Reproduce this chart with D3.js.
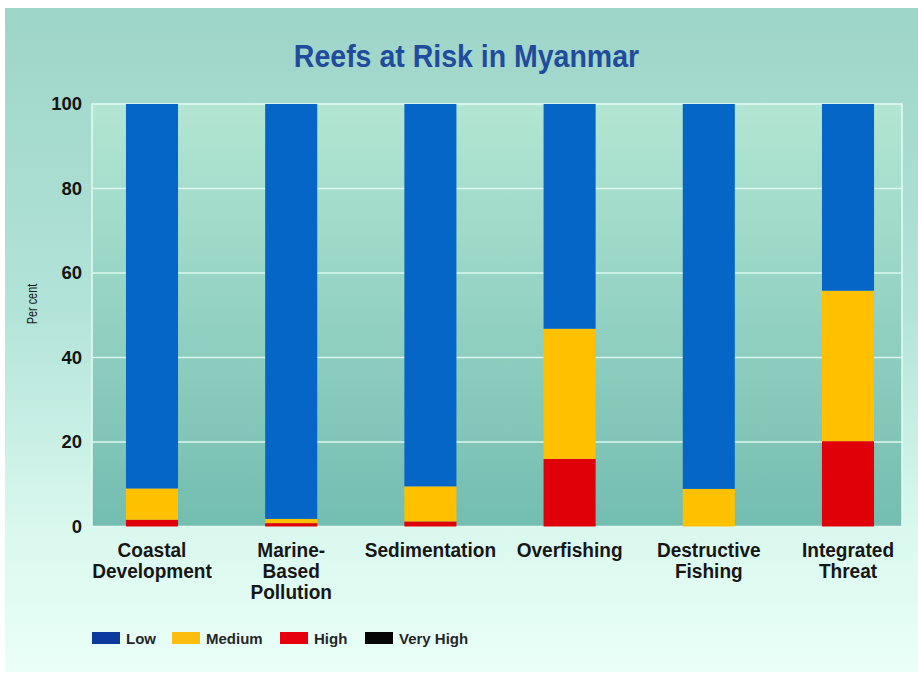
<!DOCTYPE html>
<html>
<head>
<meta charset="utf-8">
<script src="https://cdn.jsdelivr.net/npm/d3@7"></script>
<style>
  html, body { margin: 0; padding: 0; background: #ffffff; }
  svg { display: block; }
  text { font-family: "Liberation Sans", Arial, Helvetica, sans-serif; }
</style>
</head>
<body>
<svg id="chart" width="918" height="675"></svg>
<script>
// Threat categories and share of reefs (per cent) at each threat level
const categories = [
  ["Coastal", "Development"],
  ["Marine-", "Based", "Pollution"],
  ["Sedimentation"],
  ["Overfishing"],
  ["Destructive", "Fishing"],
  ["Integrated", "Threat"]
];
const levels = ["Low", "Medium", "High", "Very High"];
const lowValues      = [91.0, 98.2, 90.5, 53.2, 91.1, 44.2];
const mediumValues   = [7.4, 1.0, 8.3, 30.8, 8.9, 35.6];
const highValues     = [1.6, 0.8, 1.2, 16.0, 0.0, 20.2];
const veryHighValues = [0, 0, 0, 0, 0, 0];
const yTicks = [0, 20, 40, 60, 80, 100];

const barColors = { "Low": "#0566c8", "Medium": "#ffc000", "High": "#e00008", "Very High": "#000000" };
const legendColors = { "Low": "#0c3a9c", "Medium": "#fcbd10", "High": "#e6000c", "Very High": "#050505" };

const svg = d3.select("#chart");
const W = 918, H = 675;
const plot = { left: 92, top: 104, right: 902, bottom: 526.5 };

const defs = svg.append("defs");
const panelGrad = defs.append("linearGradient").attr("id", "panelGrad")
  .attr("x1", 0).attr("y1", 0).attr("x2", 0).attr("y2", 1);
panelGrad.append("stop").attr("offset", "0%").attr("stop-color", "#9ed5c9");
panelGrad.append("stop").attr("offset", "45%").attr("stop-color", "#b2e3d8");
panelGrad.append("stop").attr("offset", "78%").attr("stop-color", "#d9f8ee");
panelGrad.append("stop").attr("offset", "100%").attr("stop-color", "#eafff8");

const plotGrad = defs.append("linearGradient").attr("id", "plotGrad")
  .attr("x1", 0).attr("y1", 0).attr("x2", 0).attr("y2", 1);
plotGrad.append("stop").attr("offset", "0%").attr("stop-color", "#b3e6d3");
plotGrad.append("stop").attr("offset", "100%").attr("stop-color", "#73bdb1");

// Outer panel
svg.append("rect").attr("x", 5).attr("y", 8).attr("width", W - 5).attr("height", 664)
  .attr("fill", "url(#panelGrad)");

// Plot area
svg.append("rect")
  .attr("x", plot.left).attr("y", plot.top)
  .attr("width", plot.right - plot.left).attr("height", plot.bottom - plot.top)
  .attr("fill", "url(#plotGrad)")
  .attr("stroke", "#e4fbf3").attr("stroke-width", 1.5);

const x = d3.scaleBand()
  .domain(d3.range(categories.length))
  .range([82.4, 917.6])
  .paddingInner(0.626)
  .paddingOuter(0.313);

const y = d3.scaleLinear().domain([0, 100]).range([plot.bottom, plot.top]);

// Gridlines
svg.append("g").selectAll("line")
  .data(yTicks.filter(t => t > 0 && t < 100))
  .join("line")
  .attr("x1", plot.left).attr("x2", plot.right)
  .attr("y1", d => y(d)).attr("y2", d => y(d))
  .attr("stroke", "#dcf7ee").attr("stroke-width", 1.5);

// Stacked bars
const rows = categories.map((c, i) => ({
  i,
  "Low": lowValues[i], "Medium": mediumValues[i], "High": highValues[i], "Very High": veryHighValues[i]
}));
const stackOrder = ["Very High", "High", "Medium", "Low"];
const stacked = d3.stack().keys(stackOrder)(rows);

svg.append("g").selectAll("g")
  .data(stacked)
  .join("g")
  .attr("fill", d => barColors[d.key])
  .selectAll("rect")
  .data(d => d.filter(s => s[1] - s[0] > 0))
  .join("rect")
  .attr("x", d => x(d.data.i))
  .attr("width", x.bandwidth())
  .attr("y", d => y(d[1]))
  .attr("height", d => y(d[0]) - y(d[1]));

// Y axis labels
const yAxis = d3.axisLeft(y).tickValues(yTicks).tickSize(0).tickPadding(10);
const gy = svg.append("g").attr("transform", `translate(${plot.left},0)`).call(yAxis);
gy.select(".domain").remove();
gy.selectAll("text")
  .attr("font-family", "\"Liberation Sans\", Arial, sans-serif")
  .attr("font-size", 18.5).attr("font-weight", "bold").attr("fill", "#141414");

// Y title (narrow face)
svg.append("text")
  .attr("transform", `translate(37,304) rotate(-90) scale(0.7,1)`)
  .attr("text-anchor", "middle")
  .attr("font-size", 15.5).attr("fill", "#1a1a1a")
  .text("Per cent");

// Category labels
const xl = svg.append("g");
categories.forEach((lines, i) => {
  const t = xl.append("text")
    .attr("transform", `translate(${x(i) + x.bandwidth() / 2},0) scale(0.93,1)`)
    .attr("text-anchor", "middle")
    .attr("font-size", 20.5).attr("font-weight", "bold").attr("fill", "#161616");
  lines.forEach((ln, k) => {
    t.append("tspan").attr("x", 0).attr("y", 557 + k * 21).text(ln);
  });
});

// Title
svg.append("text")
  .attr("transform", "translate(466.5,67) scale(0.92,1)")
  .attr("text-anchor", "middle")
  .attr("font-size", 31).attr("font-weight", "bold").attr("fill", "#1f4c9c")
  .text("Reefs at Risk in Myanmar");

// Legend
const legendX = [92, 172, 280, 365];
const lg = svg.append("g");
levels.forEach((lv, k) => {
  const g = lg.append("g").attr("transform", `translate(${legendX[k]},632)`);
  g.append("rect").attr("width", 28).attr("height", 12).attr("fill", legendColors[lv]);
  g.append("text").attr("x", 34).attr("y", 11.5)
    .attr("font-size", 15).attr("font-weight", "bold").attr("fill", "#262626")
    .text(lv);
});
</script>
</body>
</html>
